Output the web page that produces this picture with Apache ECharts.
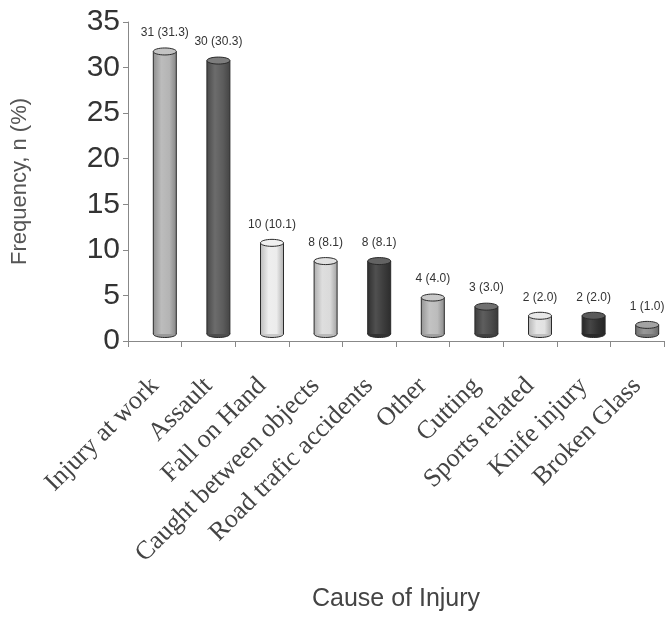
<!DOCTYPE html>
<html>
<head>
<meta charset="utf-8">
<script src="https://cdn.jsdelivr.net/npm/echarts@6/dist/echarts.min.js"></script>
<style>
  html, body { margin: 0; padding: 0; background: #fff; }
  #chart { width: 665px; height: 617px; }
</style>
</head>
<body>
<div id="chart"></div>
<script>
// Causes of hand injury: patient counts and share of total
const causes = [
  'Injury at work', 'Assault', 'Fall on Hand', 'Caught between objects',
  'Road trafic accidents', 'Other', 'Cutting', 'Sports related',
  'Knife injury', 'Broken Glass'
];
const counts = [31, 30, 10, 8, 8, 4, 3, 2, 2, 1];
const percents = [31.3, 30.3, 10.1, 8.1, 8.1, 4.0, 3.0, 2.0, 2.0, 1.0];
const yTicks = [0, 5, 10, 15, 20, 25, 30, 35];

// grey shade of each cylinder
const shades = ['#b4b4b4', '#5c5c5c', '#ececec', '#dadada', '#3c3c3c',
                '#bcbcbc', '#4c4c4c', '#e2e2e2', '#313131', '#8c8c8c'];

function mix(hex, amt) {
  const n = parseInt(hex.slice(1), 16);
  let r = (n >> 16) & 255, g = (n >> 8) & 255, b = n & 255;
  const t = amt > 0 ? 255 : 0, a = Math.abs(amt);
  r = Math.round(r + (t - r) * a); g = Math.round(g + (t - g) * a); b = Math.round(b + (t - b) * a);
  return 'rgb(' + r + ',' + g + ',' + b + ')';
}

const chart = echarts.init(document.getElementById('chart'), null, { renderer: 'canvas' });

const BAR_W = 23, CAP_RY = 3.5, SHIFT_X = 10, SHIFT_Y = -7;

function renderCylinder(params, api) {
  const i = params.dataIndex;
  const topPt = api.coord([api.value(0), api.value(1)]);
  const basePt = api.coord([api.value(0), 0]);
  const cx = topPt[0] + SHIFT_X;
  const top = topPt[1] + SHIFT_Y;
  const bot = basePt[1] + SHIFT_Y;
  const rx = BAR_W / 2;
  const base = shades[i];
  const body = new echarts.graphic.LinearGradient(0, 0, 1, 0, [
    { offset: 0, color: mix(base, -0.2) },
    { offset: 0.35, color: mix(base, 0.1) },
    { offset: 0.7, color: base },
    { offset: 1, color: mix(base, -0.25) }
  ]);
  const stroke = '#2a2a2a';
  return {
    type: 'group',
    children: [
      { type: 'ellipse', shape: { cx: cx, cy: bot, rx: rx, ry: CAP_RY },
        style: { fill: mix(base, -0.15), stroke: stroke, lineWidth: 1 } },
      { type: 'rect', shape: { x: cx - rx, y: top, width: BAR_W, height: bot - top },
        style: { fill: body } },
      { type: 'line', shape: { x1: cx - rx, y1: top, x2: cx - rx, y2: bot },
        style: { stroke: stroke, lineWidth: 1 } },
      { type: 'line', shape: { x1: cx + rx, y1: top, x2: cx + rx, y2: bot },
        style: { stroke: stroke, lineWidth: 1 } },
      { type: 'ellipse', shape: { cx: cx, cy: top, rx: rx, ry: CAP_RY },
        style: { fill: mix(base, 0.2), stroke: stroke, lineWidth: 1 } },
      { type: 'text',
        style: {
          text: counts[i] + ' (' + percents[i].toFixed(1) + ')',
          x: cx, y: top - CAP_RY - 9,
          align: 'center', verticalAlign: 'bottom',
          font: '12px "Liberation Sans", Arial, sans-serif',
          fill: '#333'
        } }
    ]
  };
}

chart.setOption({
  animation: false,
  backgroundColor: '#fff',
  grid: { left: 128, right: 1, top: 22, bottom: 274, containLabel: false },
  xAxis: {
    type: 'category',
    data: causes,
    boundaryGap: true,
    name: 'Cause of Injury',
    nameLocation: 'middle',
    nameGap: 246,
    nameTextStyle: { fontFamily: '"Liberation Sans", Arial, sans-serif', fontSize: 25, color: '#444' },
    axisLine: { lineStyle: { color: '#888', width: 1 } },
    axisTick: { show: true, alignWithLabel: false, length: 6, lineStyle: { color: '#888' } },
    axisLabel: {
      rotate: 45, interval: 0, margin: 41,
      fontFamily: '"Liberation Serif", "Times New Roman", serif',
      fontSize: 26, color: '#444'
    },
    splitLine: { show: false }
  },
  yAxis: {
    type: 'value',
    min: yTicks[0], max: yTicks[yTicks.length - 1], interval: 5,
    name: 'Frequency, n (%)',
    nameLocation: 'middle',
    nameGap: 97,
    nameTextStyle: { fontFamily: '"Liberation Sans", Arial, sans-serif', fontSize: 22, color: '#555' },
    axisLine: { show: true, lineStyle: { color: '#888', width: 1 } },
    axisTick: { show: true, inside: false, length: 5, lineStyle: { color: '#888' } },
    axisLabel: {
      margin: 8,
      fontFamily: '"Liberation Sans", Arial, sans-serif',
      fontSize: 30, color: '#333'
    },
    splitLine: { show: false }
  },
  series: [{
    type: 'custom',
    renderItem: renderCylinder,
    data: counts.map((v, i) => [i, v]),
    encode: { x: 0, y: 1 },
    clip: false
  }]
});
</script>
</body>
</html>
